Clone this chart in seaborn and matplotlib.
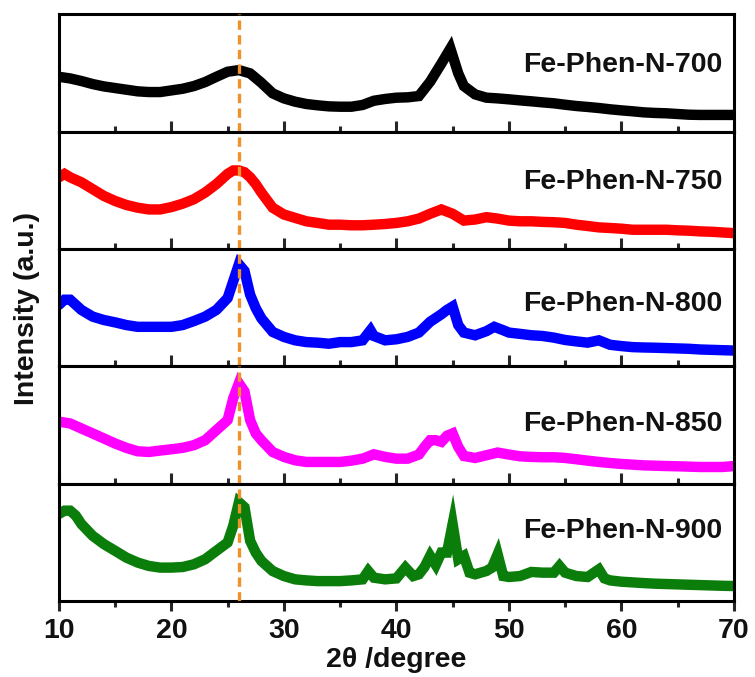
import matplotlib
matplotlib.use("Agg")
import matplotlib.pyplot as plt
import pandas as pd
import seaborn as sns

# ---------------- data (intensity in a.u. per panel) ----------------
labels = ["Fe-Phen-N-700", "Fe-Phen-N-750", "Fe-Phen-N-800", "Fe-Phen-N-850", "Fe-Phen-N-900"]
colors = ["#000000", "#FF0000", "#0000FF", "#FF00FF", "#0A7D0A"]

x_700 = [10, 11, 12, 13, 14, 15, 16, 17, 18, 19, 20, 21, 22, 23, 24, 25, 26, 27, 28, 29, 30,
         31, 32, 33, 34, 35, 36, 37, 38, 39, 40, 41, 42, 43, 44, 44.8, 45.5, 46, 47, 48, 49,
         50, 51, 52, 53, 54, 55, 56, 57, 58, 59, 60, 61, 62, 63, 64, 65, 66, 67, 68, 69, 70]
i_700 = [46.7, 45.3, 43.1, 40.5, 38.5, 37.1, 35.7, 34.3, 33.7, 33.7, 35.1, 36.5, 38.8, 42.2,
         46.7, 51.0, 52.4, 49.6, 41.6, 32.6, 28.3, 25.5, 23.5, 22.4, 21.5, 21.2, 21.2, 22.7,
         26.3, 27.8, 28.9, 29.2, 30.3, 42.5, 58.0, 70.8, 49.6, 38.8, 31.7, 28.9, 28.3, 27.5,
         26.6, 25.8, 24.9, 24.1, 22.9, 21.8, 21.0, 20.1, 19.0, 18.1, 17.3, 16.4, 15.9, 15.6,
         15.0, 14.4, 14.2, 14.2, 14.2, 14.2]

x_750 = [10, 10.5, 11, 12, 13, 14, 15, 16, 17, 18, 19, 20, 21, 22, 23, 24, 25, 25.5, 26, 26.5,
         27, 27.5, 28, 29, 30, 31, 32, 33, 34, 35, 36, 37, 38, 39, 40, 41, 42, 43, 44, 45, 46,
         47, 48, 49, 50, 51, 52, 53, 54, 55, 56, 57, 58, 59, 60, 61, 62, 63, 64, 65, 66, 67,
         68, 69, 70]
i_750 = [61.1, 64.0, 61.1, 56.8, 51.0, 45.2, 40.9, 37.5, 35.2, 33.7, 33.7, 35.7, 38.6, 42.4,
         48.1, 55.3, 64.0, 66.9, 66.9, 65.4, 61.1, 55.3, 48.1, 35.2, 29.4, 26.5, 23.6, 22.2,
         20.7, 20.7, 20.2, 20.2, 20.7, 21.3, 22.2, 23.6, 25.9, 30.0, 33.7, 30.0, 24.2, 25.1,
         27.1, 25.9, 24.2, 23.6, 23.6, 23.1, 22.8, 22.2, 20.7, 19.6, 18.4, 17.9, 17.3, 16.4,
         16.4, 16.4, 16.4, 15.9, 15.6, 15.0, 14.7, 14.1, 13.5]

x_800 = [10, 10.5, 11, 12, 13, 14, 15, 16, 17, 18, 19, 20, 21, 22, 23, 24, 25, 25.5, 26, 26.5,
         27, 27.5, 28, 29, 30, 31, 32, 33, 34, 35, 36, 37, 37.7, 38, 39, 40, 41, 42, 43, 44,
         44.5, 45, 45.5, 46, 47, 48, 48.7, 49.5, 50, 51, 52, 53, 54, 55, 56, 57, 58, 59, 60,
         61, 62, 63, 64, 65, 66, 67, 68, 69, 70]
i_800 = [52.4, 56.8, 56.8, 48.1, 42.4, 39.5, 37.5, 35.2, 33.7, 33.7, 33.7, 33.7, 35.2, 38.6,
         42.4, 48.1, 58.2, 72.6, 87.0, 81.3, 61.1, 49.6, 40.9, 29.4, 25.1, 22.2, 20.7, 20.2,
         19.3, 20.7, 20.7, 22.2, 30.8, 25.9, 22.2, 23.1, 25.1, 28.8, 38.0, 44.4, 48.1, 51.0,
         35.2, 28.8, 26.5, 30.0, 33.7, 30.8, 28.8, 27.7, 26.5, 25.9, 24.5, 22.5, 21.3, 20.2,
         22.2, 18.4, 17.3, 16.4, 16.1, 15.9, 15.6, 15.3, 15.0, 14.4, 14.1, 13.8, 13.5]

x_850 = [10, 11, 12, 13, 14, 15, 16, 17, 18, 19, 20, 21, 22, 23, 24, 25, 25.5, 26, 26.5, 27,
         27.5, 28, 29, 30, 31, 32, 33, 34, 35, 36, 37, 38, 39, 40, 41, 42, 42.5, 43, 43.5, 44,
         44.5, 45, 45.5, 46, 47, 48, 49, 50, 51, 52, 53, 54, 55, 56, 57, 58, 59, 60, 61, 62,
         63, 64, 65, 66, 67, 68, 69, 70]
i_850 = [52.9, 51.4, 47.1, 42.9, 38.6, 34.3, 30.6, 27.7, 27.1, 28.3, 29.4, 30.6, 32.9, 37.1,
         45.7, 54.3, 72.9, 85.7, 78.6, 54.3, 42.9, 37.1, 27.1, 22.9, 20.0, 18.6, 18.6, 18.6,
         18.6, 19.7, 21.4, 25.1, 22.9, 21.4, 21.4, 24.9, 31.4, 37.1, 37.1, 35.7, 40.9, 42.9,
         31.4, 23.7, 22.0, 24.3, 26.6, 24.9, 23.4, 22.9, 22.6, 22.6, 22.0, 20.9, 19.7, 18.6,
         17.7, 16.9, 16.3, 15.7, 15.4, 15.1, 14.9, 14.6, 14.3, 14.3, 14.3, 15.1]

x_900 = [10, 10.5, 11, 11.5, 12, 13, 14, 15, 16, 17, 18, 19, 20, 21, 22, 23, 24, 25, 25.5, 26,
         26.5, 27, 27.5, 28, 29, 30, 31, 32, 33, 34, 35, 36, 37, 37.5, 38, 39, 40, 40.8, 41.5,
         42, 42.5, 43, 43.5, 44, 44.5, 45, 45.5, 46, 46.5, 47, 48, 48.5, 49, 49.5, 50, 51, 52,
         53, 54, 54.5, 55, 56, 57, 58, 58.5, 59, 60, 61, 62, 63, 64, 65, 66, 67, 68, 69, 70]
i_900 = [74.3, 77.1, 77.1, 72.9, 65.7, 55.7, 48.6, 42.9, 37.1, 32.9, 30.0, 28.6, 28.6, 29.1,
         31.4, 35.7, 42.9, 50.0, 64.3, 84.3, 80.0, 51.4, 41.4, 34.3, 25.7, 21.4, 18.6, 17.7,
         17.1, 17.1, 17.1, 17.7, 18.6, 25.7, 20.0, 18.6, 19.4, 28.6, 21.4, 22.9, 29.1, 38.6,
         30.9, 41.4, 41.4, 65.7, 35.7, 38.6, 24.3, 22.9, 25.7, 28.6, 40.0, 21.4, 20.6, 21.4,
         24.9, 24.3, 24.3, 30.0, 24.3, 21.4, 20.6, 27.1, 19.4, 17.7, 16.6, 16.0, 15.4, 14.9,
         14.6, 14.3, 14.0, 13.7, 13.4, 13.1, 12.9]

xs = [x_700, x_750, x_800, x_850, x_900]
ys = [i_700, i_750, i_800, i_850, i_900]
label_y = [0.57, 0.57, 0.53, 0.51, 0.60]

x_ticks = [10, 20, 30, 40, 50, 60, 70]
x_minor = [15, 25, 35, 45, 55, 65]
ref_line = 26.0

# ---------------- plotting ----------------
sns.set_theme(style="ticks")
plt.rcParams["font.family"] = ["Liberation Sans", "DejaVu Sans"]
plt.rcParams["font.weight"] = "bold"

fig, axes = plt.subplots(5, 1, figsize=(7.55, 6.77), dpi=100, sharex=True,
                         gridspec_kw=dict(hspace=0))
fig.subplots_adjust(left=0.078, right=0.972, top=0.979, bottom=0.112)

for k, ax in enumerate(axes):
    df = pd.DataFrame({"two_theta": xs[k], "intensity": ys[k]})
    sns.lineplot(data=df, x="two_theta", y="intensity", ax=ax, color=colors[k],
                 linewidth=7.5, solid_joinstyle="miter", legend=False)
    ax.axvline(ref_line, color="#F0922B", linewidth=2.4, linestyle=(0, (2.8, 1.6)), zorder=5)
    ax.text(69, label_y[k], labels[k], transform=ax.get_xaxis_transform(),
            ha="right", va="center", fontsize=20.5, fontweight="bold", color="#111111")
    ax.set_xlim(10, 70)
    ax.set_ylim(0, 100)
    ax.set_yticks([])
    ax.set_ylabel("")
    ax.set_xlabel("")
    for sp in ax.spines.values():
        sp.set_linewidth(2.2)
        sp.set_color("black")
    ax.set_xticks(x_ticks)
    ax.set_xticks(x_minor, minor=True)
    if k < 4:
        ax.tick_params(axis="x", which="major", direction="in", length=8, width=2.2,
                       labelbottom=False)
        ax.tick_params(axis="x", which="minor", direction="in", length=4.5, width=2.2)
    else:
        ax.tick_params(axis="x", which="major", direction="out", length=7, width=2.2,
                       labelsize=20.5, pad=5, labelcolor="#111111")
        ax.tick_params(axis="x", which="minor", direction="out", length=4.5, width=2.2)
        for t in ax.get_xticklabels():
            t.set_fontweight("bold")

axes[-1].set_xlabel("2θ /degree", fontsize=20.5, fontweight="bold", labelpad=2,
                    color="#111111")
fig.text(0.036, 0.545, "Intensity (a.u.)", rotation=90, ha="center", va="center",
         fontsize=20.5, fontweight="bold", color="#111111")

fig.savefig("out.png", dpi=100)
